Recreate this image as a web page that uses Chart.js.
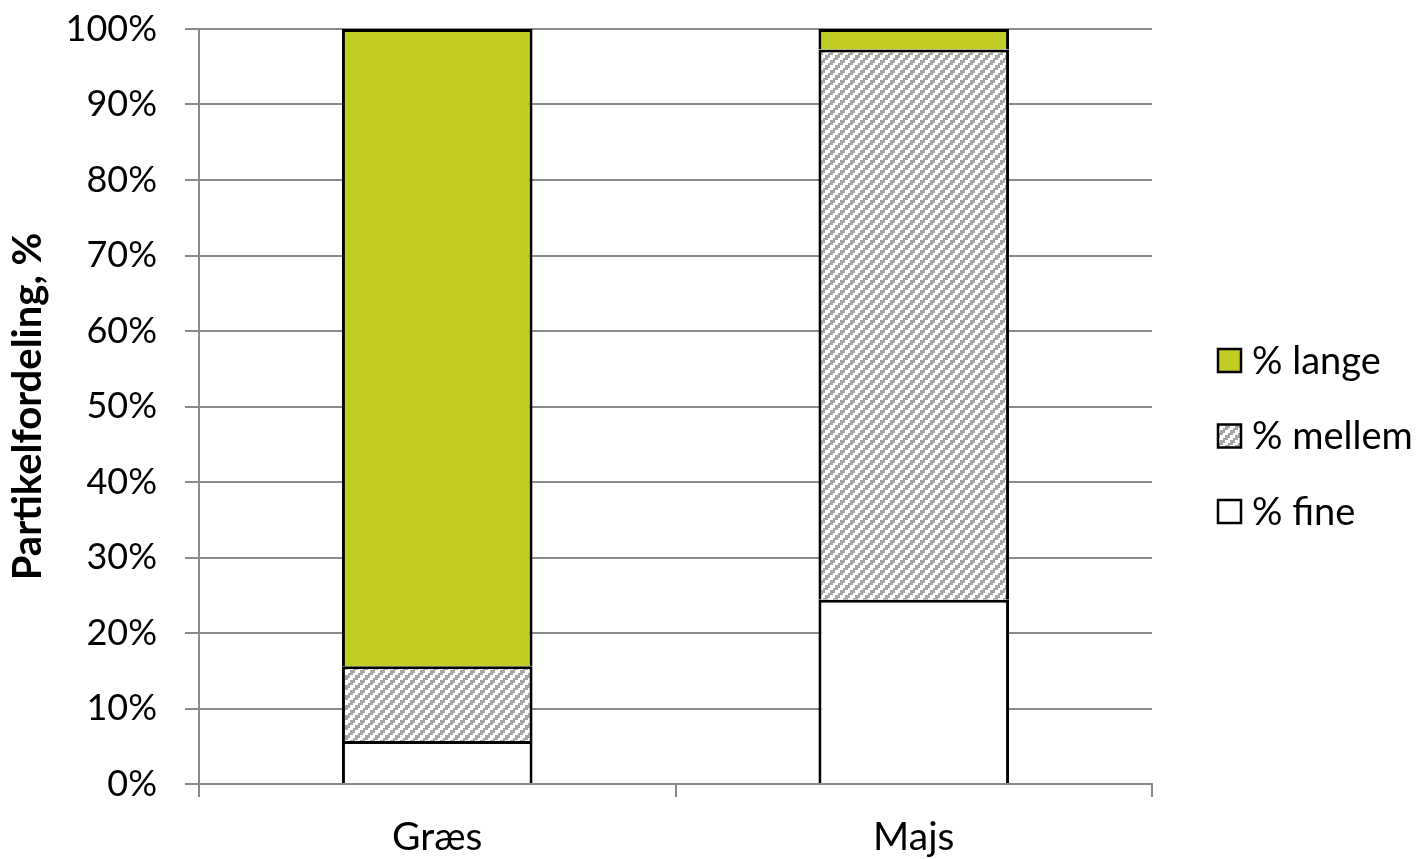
<!DOCTYPE html>
<html>
<head>
<meta charset="utf-8">
<script src="https://cdn.jsdelivr.net/npm/chart.js@4/dist/chart.umd.min.js"></script>
<style>
  html, body { margin: 0; padding: 0; background: #ffffff; }
  #wrap { width: 1422px; height: 859px; }
</style>
</head>
<body>
<div id="wrap"><canvas id="c" width="1422" height="859"></canvas></div>
<script>
// Particle size distribution per crop (percent of total)
const categories = ['Græs', 'Majs'];
const fine   = [5.7, 24.4];
const mellem = [9.9, 72.9];
const lange  = [84.4, 2.7];
const seriesNames = ['% fine', '% mellem', '% lange'];
const yTicks = [0, 10, 20, 30, 40, 50, 60, 70, 80, 90, 100];

const FONT = 'Lato, "Open Sans", sans-serif';
const GRID = '#8a8a8a';

// Wide upward-diagonal hatch: grey stair-stepped stripes on white (10 px tile)
function hatchPattern() {
  const t = document.createElement('canvas');
  t.width = 10; t.height = 10;
  const g = t.getContext('2d');
  g.fillStyle = '#ffffff';
  g.fillRect(0, 0, 10, 10);
  g.fillStyle = '#a6a6a6';
  for (let y = 0; y < 10; y++) {
    for (let x = 0; x < 10; x++) {
      if (((Math.floor(x / 2.5) + Math.floor(y / 2.5)) % 4) < 2) g.fillRect(x, y, 1, 1);
    }
  }
  return g.createPattern(t, 'repeat');
}

const ctx = document.getElementById('c').getContext('2d');
const hatch = hatchPattern();
const segBorder = { top: 3, left: 3, right: 3, bottom: 0 };

const barCommon = {
  borderColor: '#000000',
  borderWidth: segBorder,
  borderSkipped: false,
  barPercentage: 0.4,
  categoryPercentage: 1.0
};

// Legend drawn to the right of the plot, top item = top stack segment
const sideLegend = {
  id: 'sideLegend',
  afterDraw(chart) {
    const c = chart.ctx;
    const ds = chart.data.datasets.slice().reverse();
    c.save();
    c.font = '38px ' + FONT;
    c.textBaseline = 'middle';
    c.textAlign = 'left';
    ds.forEach((d, i) => {
      const cy = 360.5 + i * 75.5;
      const bx = 1218, bs = 23;
      c.fillStyle = d.backgroundColor;
      c.fillRect(bx, cy - bs / 2, bs, bs);
      c.lineWidth = 2.5;
      c.strokeStyle = '#000000';
      c.strokeRect(bx, cy - bs / 2, bs, bs);
      c.fillStyle = '#000000';
      c.fillText(d.label, 1252, cy + 1);
    });
    c.restore();
  }
};

new Chart(ctx, {
  type: 'bar',
  data: {
    labels: categories,
    datasets: [
      Object.assign({ label: seriesNames[0], data: fine,   backgroundColor: '#ffffff' }, barCommon),
      Object.assign({ label: seriesNames[1], data: mellem, backgroundColor: hatch }, barCommon),
      Object.assign({ label: seriesNames[2], data: lange,  backgroundColor: '#c2cd23' }, barCommon)
    ]
  },
  options: {
    responsive: false,
    animation: false,
    devicePixelRatio: 1,
    layout: { padding: { left: 0, top: 29, right: 270, bottom: 0 } },
    plugins: {
      legend: { display: false },
      tooltip: { enabled: false },
      title: { display: false }
    },
    scales: {
      x: {
        stacked: true,
        offset: true,
        afterFit(s) { s.height = 75; },
        grid: {
          display: true,
          offset: true,
          drawOnChartArea: false,
          drawTicks: true,
          tickLength: 13,
          color: GRID,
          lineWidth: 2
        },
        border: { display: true, color: GRID, width: 2 },
        ticks: {
          color: '#000000',
          font: { family: FONT, size: 39 },
          padding: 17,
          maxRotation: 0
        }
      },
      y: {
        stacked: true,
        min: 0,
        max: 100,
        afterFit(s) { s.width = 199; s.paddingTop = 0; s.paddingBottom = 0; },
        afterBuildTicks(s) { s.ticks = yTicks.map(v => ({ value: v })); },
        grid: {
          color: GRID,
          lineWidth: 2,
          drawTicks: true,
          tickLength: 14
        },
        border: { display: true, color: GRID, width: 2 },
        ticks: {
          color: '#000000',
          font: { family: FONT, size: 36 },
          padding: 28,
          callback: v => v + '%'
        },
        title: {
          display: true,
          text: 'Partikelfordeling, %',
          color: '#000000',
          font: { family: FONT, size: 40, weight: 'bold' },
          padding: { top: 4, bottom: 0 }
        }
      }
    }
  },
  plugins: [sideLegend]
});
</script>
</body>
</html>
